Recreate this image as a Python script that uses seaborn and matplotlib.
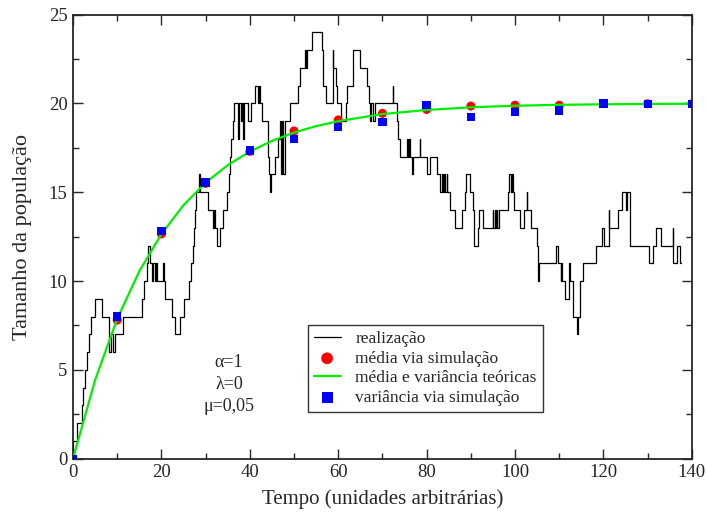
import matplotlib
matplotlib.use("Agg")
import matplotlib.pyplot as plt
from matplotlib.ticker import MultipleLocator
import seaborn as sns
import pandas as pd

# realizacao (processo de nascimento e morte), pontos de salto
t_real = [0, 0.1, 1.0, 2.0, 2.3, 2.7, 3.1, 3.7, 4.0, 5.0,
          6.6, 8.2, 8.25, 8.7, 9.1, 9.6, 11.4, 15.6, 16.1, 16.7,
          17.0, 17.5, 17.9, 18.1, 18.6, 18.8, 19.0, 20.4, 20.6, 20.8,
          22.3, 23.1, 24.1, 25.2, 26.3, 26.8, 27.1, 27.3, 27.5, 27.8,
          28.5, 28.7, 30.6, 31.6, 31.8, 32.1, 32.5, 33.3, 34.0, 34.8,
          35.2, 35.5, 35.7, 36.2, 36.5, 37.4, 37.6, 38.1, 38.3, 38.5,
          38.7, 39.7, 40.3, 41.2, 41.8, 42.1, 42.3, 42.7, 44.0, 44.3,
          44.5, 44.7, 45.7, 46.4, 46.8, 47.1, 47.3, 47.6, 47.9, 49.2,
          51.0, 51.4, 52.5, 52.8, 53.0, 54.1, 56.3, 56.5, 57.3, 58.8,
          58.9, 59.5, 59.8, 60.6, 61.8, 62.0, 63.3, 63.4, 64.9, 66.5,
          66.9, 67.2, 67.5, 67.8, 68.3, 72.4, 72.5, 73.3, 73.6, 74.0, 75.6,
          75.8, 76.0, 76.2, 76.6, 77.0, 78.4, 78.5, 80.0, 80.8, 82.3,
          83.0, 83.4, 83.6, 83.9, 84.1, 84.5, 84.7, 85.3, 86.4, 87.9,
          88.7, 88.8, 89.7, 90.5, 90.6, 90.7, 91.7, 91.8, 92.7, 95.0,
          95.1, 95.5, 95.6, 95.9, 96.0, 96.3, 98.5, 98.6, 99.0, 99.2,
          99.6, 99.8, 101.1, 102.0, 102.6, 102.7, 103.5, 104.9, 105.3, 105.4,
          109.3, 109.8, 110.3, 110.5, 110.7, 111.3, 112.3, 112.5, 113.2, 113.9,
          114.3, 114.6, 114.8, 115.3, 118.3, 119.7, 120.2, 121.2, 121.3, 123.4,
          124.1, 125.0, 125.3, 126.0, 130.2, 131.2, 131.9, 133.0, 135.7, 135.8,
          136.6, 137.3, 137.5]
n_real = [0, 1, 2, 3, 4, 5, 6, 7, 8, 9,
          8, 7, 6, 7, 6, 7, 8, 9, 10, 11,
          12, 11, 10, 11, 10, 11, 10, 11, 10, 9,
          8, 7, 8, 9, 10, 11, 12, 13, 14, 15,
          16, 15, 14, 13, 14, 13, 12, 13, 14, 15,
          16, 17, 18, 19, 20, 18, 20, 19, 20, 18,
          20, 19, 20, 21, 20, 21, 20, 19, 17, 16,
          15, 16, 17, 18, 19, 16, 19, 16, 19, 20,
          21, 22, 23, 22, 23, 24, 23, 21, 20, 23,
          22, 21, 20, 19, 20, 21, 22, 23, 22, 21,
          20, 19, 20, 19, 20, 21, 20, 19, 18, 17, 18,
          17, 18, 17, 16, 17, 18, 17, 16, 17, 16,
          15, 16, 15, 16, 15, 16, 15, 14, 13, 14,
          15, 16, 15, 14, 13, 12, 13, 14, 13, 14,
          13, 14, 13, 14, 13, 14, 15, 16, 15, 16,
          15, 14, 13, 14, 15, 14, 13, 12, 10, 11,
          12, 11, 10, 11, 10, 9, 11, 10, 8, 7,
          8, 9, 10, 11, 12, 13, 12, 14, 13, 14,
          15, 14, 15, 12, 11, 12, 13, 12, 13, 11,
          12, 11, 11]

# curva teorica
t_teo = [0, 5, 10, 15, 20, 25, 30, 35, 40, 45, 50, 55, 60, 70, 80, 90, 100, 110, 120, 130, 140]
n_teo = [0, 4.42, 7.87, 10.55, 12.64, 14.27, 15.54, 16.52, 17.29, 17.89, 18.36, 18.72,
         19.0, 19.4, 19.63, 19.78, 19.87, 19.92, 19.95, 19.97, 19.98]

# pontos de simulacao
t_sim = [0, 10, 20, 30, 40, 50, 60, 70, 80, 90, 100, 110, 120, 130, 140]
media_sim = [0, 7.8, 12.65, 15.5, 17.3, 18.45, 19.07, 19.44, 19.66, 19.85, 19.9, 19.9, 20.0, 19.98, 19.98]
var_sim = [0, 8.0, 12.8, 15.55, 17.35, 18.0, 18.67, 18.97, 19.9, 19.22, 19.5, 19.6, 20.0, 19.98, 19.98]

df_real = pd.DataFrame({"t": t_real, "n": n_real})
df_teo = pd.DataFrame({"t": t_teo, "n": n_teo})
df_sim = pd.DataFrame({"t": t_sim, "media": media_sim, "var": var_sim})

sns.set_style("ticks")
plt.rcParams["font.family"] = ["Liberation Serif", "DejaVu Serif"]

fig, ax = plt.subplots(figsize=(7.06, 5.21), dpi=100)
fig.subplots_adjust(left=0.1034, right=0.980, top=0.972, bottom=0.1196)

sns.lineplot(data=df_real, x="t", y="n", ax=ax, color="black", linewidth=0.9,
             drawstyle="steps-post", sort=False, estimator=None, label="realização")
sns.scatterplot(data=df_sim, x="t", y="media", ax=ax, color="red", marker="o", s=42,
                edgecolor="none", label="média via simulação", zorder=3)
sns.lineplot(data=df_teo, x="t", y="n", ax=ax, color="#00ee00", linewidth=1.6,
             label="média e variância teóricas", zorder=4)
sns.scatterplot(data=df_sim, x="t", y="var", ax=ax, color="blue", marker="s", s=36,
                edgecolor="none", label="variância via simulação", zorder=5)

ax.set_xlim(0, 140)
ax.set_ylim(0, 25)
ax.xaxis.set_major_locator(MultipleLocator(20))
ax.xaxis.set_minor_locator(MultipleLocator(10))
ax.yaxis.set_major_locator(MultipleLocator(5))
ax.yaxis.set_minor_locator(MultipleLocator(2.5))
ax.tick_params(which="both", direction="in", top=True, right=True, labelsize=13.5, width=1)
ax.tick_params(which="major", length=7, pad=4)
ax.tick_params(which="minor", length=4)
for sp in ax.spines.values():
    sp.set_linewidth(1.3)
    sp.set_visible(True)

ax.set_xlabel("Tempo (unidades arbitrárias)", fontsize=15, labelpad=6)
ax.set_ylabel("Tamanho da população", fontsize=16, labelpad=12)

ax.text(35.3, 5.44, "α=1", ha="center", va="center", fontsize=13)
ax.text(35.3, 4.15, "λ=0", ha="center", va="center", fontsize=13)
ax.text(35.3, 2.92, "μ=0,05", ha="center", va="center", fontsize=13)

leg = ax.legend(loc="upper left", bbox_to_anchor=(0.379, 0.301), borderaxespad=0,
                fontsize=12.5, frameon=True, fancybox=False, handlelength=1.55,
                labelspacing=0.2, borderpad=0.35, handletextpad=0.85, markerscale=1.3)
leg.get_frame().set_edgecolor("black")
leg.get_frame().set_linewidth(1.0)

plt.savefig("out.png", dpi=100)
